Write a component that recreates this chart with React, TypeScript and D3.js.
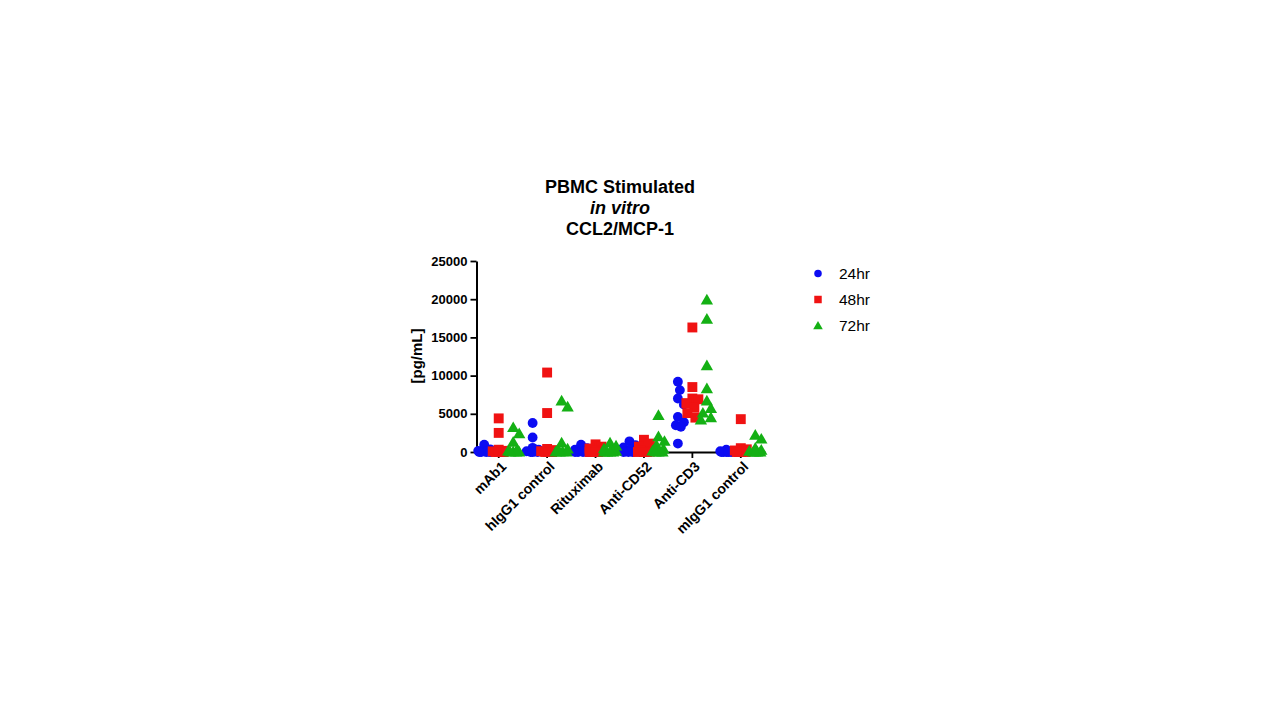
import React, { useEffect, useRef } from "react";
import * as d3 from "d3";

const categories = ["mAb1", "hIgG1 control", "Rituximab", "Anti-CD52", "Anti-CD3", "mIgG1 control"];
const seriesNames = ["24hr", "48hr", "72hr"];
const seriesColors = ["#0c0cf2", "#f01212", "#14b014"];

// values per category, [pg/mL]
const hr24 = [
  [950, 350, 150, 80, 40, 0, 0, 0, 0],
  [3800, 1900, 550, 300, 100, 50, 0, 0, 0],
  [950, 500, 300, 150, 80, 0, 0, 0, 0],
  [1400, 900, 600, 300, 150, 50, 0, 0, 0],
  [9200, 8100, 7000, 6200, 4600, 3900, 3500, 3300, 1100],
  [300, 150, 100, 50, 0, 0, 0, 0, 0],
];
const hr48 = [
  [4400, 2500, 300, 150, 80, 0, 0, 0, 0],
  [10400, 5100, 400, 250, 100, 50, 0, 0, 0],
  [1000, 700, 450, 250, 100, 0, 0, 0, 0],
  [1600, 1100, 700, 400, 200, 50, 0, 0, 0],
  [16300, 8500, 7000, 6900, 6400, 5800, 5100, 4500],
  [4300, 500, 350, 200, 100, 0, 0, 0, 0],
];
const hr72 = [
  [3200, 2400, 1300, 300, 150, 50, 0, 0, 0],
  [6700, 5900, 1200, 400, 200, 50, 0, 0, 0],
  [1200, 800, 450, 250, 100, 0, 0, 0, 0],
  [4800, 2000, 1400, 900, 400, 150, 0, 0, 0],
  [19900, 17400, 11300, 8300, 6700, 5700, 5100, 4500, 4200],
  [2200, 1700, 500, 250, 100, 0, 0, 0, 0],
];
const yTicks = [0, 5000, 10000, 15000, 20000, 25000];
const titleLines = ["PBMC Stimulated", "in vitro", "CCL2/MCP-1"];
const yLabel = "[pg/mL]";

const FONT = "Arial, 'Liberation Sans', sans-serif";

// simple beeswarm: spread points that would overlap, stay within +-maxOff px
function swarm(ys: number[], maxOff: number, minDist: number) {
  const order = ys.map((_, i) => i).sort((a, b) => ys[a] - ys[b]);
  const placed: { x: number; y: number }[] = [];
  const offs = new Array(ys.length).fill(0);
  const cands = [0];
  for (let k = 1; k <= maxOff; k++) cands.push(k, -k);
  order.forEach(i => {
    let best = 0, bestD = -1;
    for (const c of cands) {
      const d = placed.length ? (d3.min(placed, p => Math.hypot(p.x - c, p.y - ys[i])) as number) : Infinity;
      if (d >= minDist) { best = c; break; }
      if (d > bestD) { bestD = d; best = c; }
    }
    offs[i] = best;
    placed.push({ x: best, y: ys[i] });
  });
  return offs;
}

export default function App() {
  const ref = useRef<SVGSVGElement | null>(null);

  useEffect(() => {
    const svg = d3.select(ref.current);
    svg.selectAll("*").remove();

    const x = d3.scaleBand<string>().domain(categories).range([474.5, 765]).padding(0);
    const inner = d3.scalePoint<string>().domain(seriesNames).range([-14.5, 14.5]);
    const y = d3.scaleLinear().domain([0, 25000]).range([452, 261]);

    const allSeries = [hr24, hr48, hr72];
    const symbols = [d3.symbolCircle, d3.symbolSquare, d3.symbolTriangle];
    const symSizes = [76, 98, 66];
    const legendSizes = [44, 56, 40];

    // title
    const title = svg.append("text").attr("x", 620).attr("y", 193)
      .attr("text-anchor", "middle").style("font-family", FONT).style("font-size", "18px").style("font-weight", "bold");
    titleLines.forEach((t, i) => {
      title.append("tspan").attr("x", 620).attr("dy", i === 0 ? 0 : 21)
        .style("font-style", i === 1 ? "italic" : "normal").text(t);
    });

    // y axis
    const yAxis = svg.append("g").attr("transform", "translate(476.5,0)")
      .call(d3.axisLeft(y).tickValues(yTicks).tickSize(6).tickSizeOuter(0).tickPadding(3).tickFormat(d3.format("d")));
    yAxis.select(".domain").attr("stroke", "#000").attr("stroke-width", 2);
    yAxis.selectAll(".tick line").attr("stroke", "#000").attr("stroke-width", 1.8);
    yAxis.selectAll(".tick text").attr("fill", "#000").style("font-family", FONT)
      .style("font-size", "13px").style("font-weight", "bold");

    svg.append("text").attr("transform", `translate(422,356) rotate(-90)`)
      .attr("text-anchor", "middle").style("font-family", FONT).style("font-size", "15px").style("font-weight", "bold")
      .text(yLabel);

    // x axis
    const xAxis = svg.append("g").attr("transform", "translate(0,452)")
      .call(d3.axisBottom(x).tickSize(6).tickSizeOuter(0));
    xAxis.select(".domain").attr("stroke", "#000").attr("stroke-width", 2);
    xAxis.selectAll(".tick line").attr("stroke", "#000").attr("stroke-width", 1.8);
    xAxis.selectAll(".tick text").attr("fill", "#000").attr("x", 0).attr("y", 0).attr("dy", "0.35em")
      .attr("transform", "translate(5,12) rotate(-45)").style("text-anchor", "end")
      .style("font-family", FONT).style("font-size", "14px").style("font-weight", "bold");

    // points
    const pts = svg.append("g");
    allSeries.forEach((series, s) => {
      const sym = d3.symbol().type(symbols[s]).size(symSizes[s]);
      categories.forEach((cat, ci) => {
        const vals = series[ci];
        const ys = vals.map(v => y(v));
        const offs = swarm(ys, 6, 8.5);
        const cx = (x(cat) as number) + x.bandwidth() / 2 + (inner(seriesNames[s]) as number);
        pts.selectAll(null).data(vals).enter().append("path")
          .attr("d", sym as any)
          .attr("transform", (d, i) => `translate(${cx + offs[i]},${ys[i] + (s === 2 ? 1 : 0)})`)
          .attr("fill", seriesColors[s]);
      });
    });

    // legend
    const legend = svg.append("g");
    seriesNames.forEach((name, i) => {
      const ly = 273.5 + i * 26;
      legend.append("path").attr("d", d3.symbol().type(symbols[i]).size(legendSizes[i]) as any)
        .attr("transform", `translate(818,${ly + (i === 2 ? 1 : 0)})`).attr("fill", seriesColors[i]);
      legend.append("text").attr("x", 839).attr("y", ly).attr("dy", "0.36em")
        .style("font-family", FONT).style("font-size", "15.5px").attr("fill", "#000").text(name);
    });
  }, []);

  return (
    <svg ref={ref} width={1280} height={720}
      style={{ position: "absolute", left: 0, top: 0, background: "#fff" }} />
  );
}
